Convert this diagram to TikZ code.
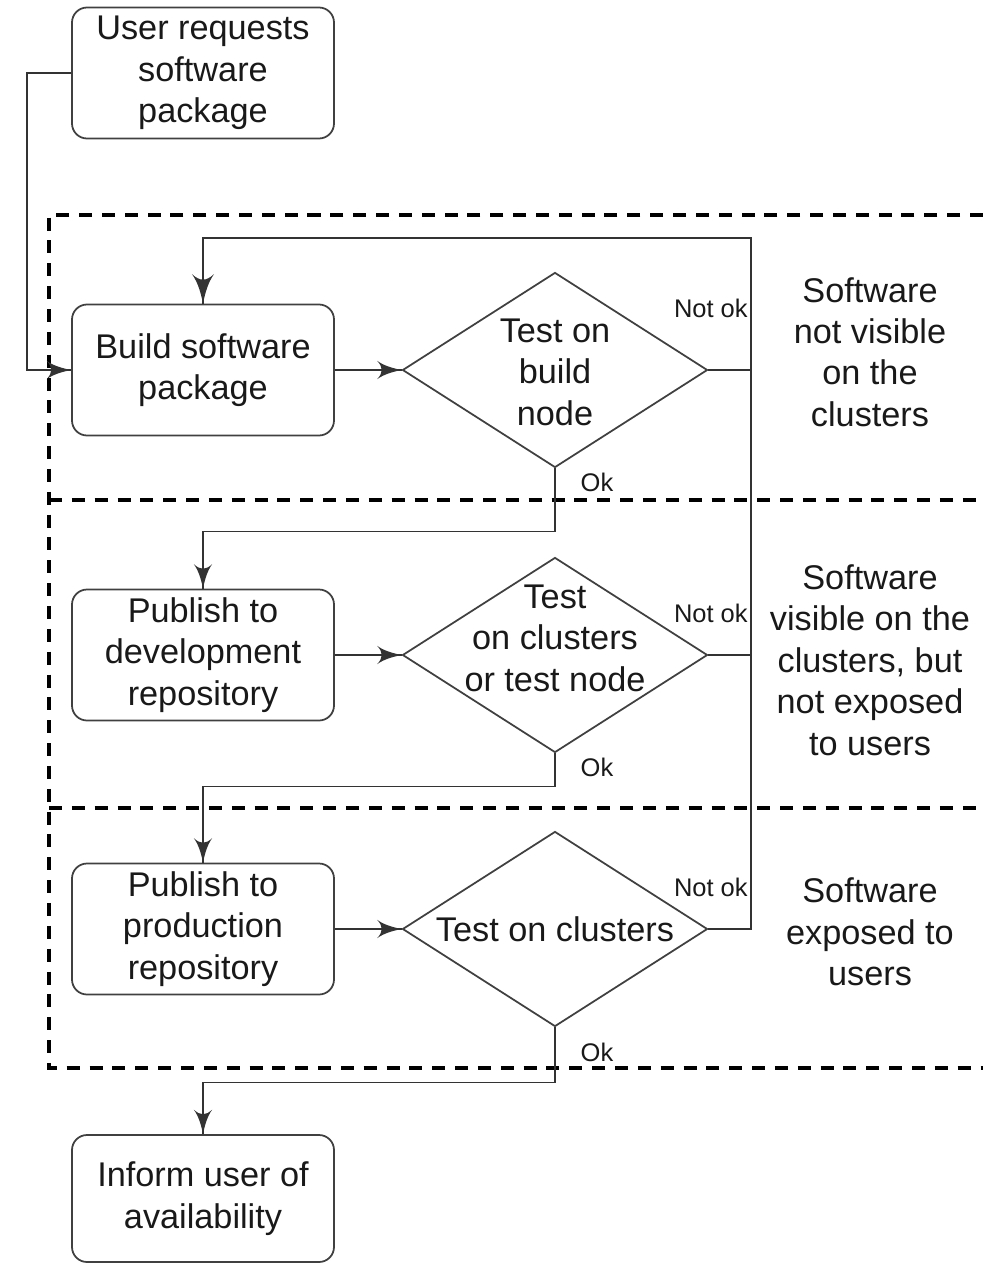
\documentclass[tikz,border=0pt]{standalone}
\usepackage{fontspec}
\setmainfont{Liberation Sans}
\usetikzlibrary{arrows}
\usetikzlibrary{decorations.markings}
\usetikzlibrary{shapes.geometric}
\usetikzlibrary{positioning}
\tikzset{->/.style = {decoration={markings,
                                  mark=at position 1 with {\arrow[scale=2.4]{latex'}}},
                      postaction={decorate}}}
\tikzset{box/.style = {draw=black!75, line width=1pt, rounded corners=0.3cm,
                       minimum width=5.24cm, minimum height=2.62cm, align=center,
                       font=\fontsize{19.5}{23.6}\selectfont, text=black!90}}
\tikzset{dec/.style = {draw=black!75, line width=1pt, diamond, inner sep=0,
                       minimum width=6.1cm, minimum height=3.9cm}}
\tikzset{txt/.style = {align=center, inner sep=0,
                       font=\fontsize{19.5}{23.6}\selectfont, text=black!90}}
\tikzset{lbl/.style = {inner sep=0, font=\fontsize{14.5}{17}\selectfont, text=black!90}}
\tikzset{flow/.style = {draw=black!80, line width=1pt}}
\tikzset{stage/.style = {draw=black, line width=2.1pt, dash pattern=on 7.4pt off 5.6pt}}

\begin{document}
\begin{tikzpicture}
    \useasboundingbox (0, 0) rectangle (19.66, -25.28);
    % stages
    \draw [stage] (19.66, -4.3) -- (0.98, -4.3) -- (0.98, -21.36) -- (19.66, -21.36);
    \draw [stage] (0.98, -10.0) -- (19.66, -10.0);
    \draw [stage] (0.98, -16.16) -- (19.66, -16.16);
    % steps
    \node [box] (request) at (4.06, -1.46) {User requests\\software\\package};
    \node [box] (build) at (4.06, -7.4) {Build software\\package};
    \node [box] (devrepo) at (4.06, -13.1) {Publish to\\development\\repository};
    \node [box] (prodrepo) at (4.06, -18.58) {Publish to\\production\\repository};
    \node [box, minimum height=2.54cm] (inform) at (4.06, -23.97) {Inform user of\\availability};
    % tests
    \node [dec] (buildtest) at (11.1, -7.4) {};
    \node [dec] (devtest) at (11.1, -13.1) {};
    \node [dec] (prodtest) at (11.1, -18.58) {};
    \node [txt] (buildtesttext) at (11.1, -7.44) {Test on\\build\\node};
    \node [txt] (devtesttext) at (11.1, -12.76) {Test\\on clusters\\or test node};
    \node [txt] (prodtesttext) at (prodtest) {Test on clusters};
    % what users see
    \node [txt] (stageone) at (17.4, -7.04) {Software\\not visible\\on the\\clusters};
    \node [txt] (stagetwo) at (17.4, -13.2) {Software\\visible on the\\clusters, but\\not exposed\\to users};
    \node [txt] (stagethree) at (17.4, -18.64) {Software\\exposed to\\users};
    % flow
    \coordinate (loop) at (15.02, -4.76);
    \draw [flow, ->] (request.west) -- ++(-0.88, 0) |- (build.west);
    \draw [flow, ->] (build.east) -- (buildtest.west);
    \draw [flow, ->] (devrepo.east) -- (devtest.west);
    \draw [flow, ->] (prodrepo.east) -- (prodtest.west);
    \draw [flow, ->, line width=1.4pt] (buildtest.east) -| (loop) -| (build.north);
    \draw [flow] (devtest.east) -| (loop);
    \draw [flow] (prodtest.east) -| (loop);
    \draw [flow, ->] (buildtest.south) -- ++(0, -1.26) -| (devrepo.north);
    \draw [flow, ->] (devtest.south) -- ++(0, -0.66) -| (prodrepo.north);
    \draw [flow, ->] (prodtest.south) -- ++(0, -1.1) -| (inform.north);
    \node [lbl, anchor=east] (notokone) at (14.96, -6.16) {Not ok};
    \node [lbl, anchor=east] (notoktwo) at (14.96, -12.26) {Not ok};
    \node [lbl, anchor=east] (notokthree) at (14.96, -17.74) {Not ok};
    \node [lbl] (okone) at (11.94, -9.64) {Ok};
    \node [lbl] (oktwo) at (11.94, -15.34) {Ok};
    \node [lbl] (okthree) at (11.94, -21.04) {Ok};
  \end{tikzpicture}
\end{document}
